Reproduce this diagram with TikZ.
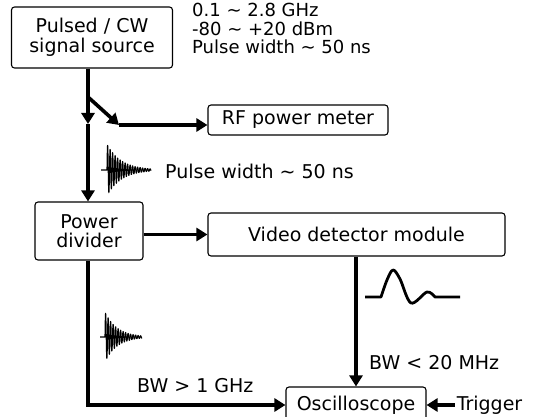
\documentclass[tikz,border=0pt]{standalone}
\usepackage{fontspec}
\setmainfont{DejaVu Sans}
\usetikzlibrary{arrows.meta}

\tikzset{
  block/.style={draw, line width=1.1pt, rounded corners=3pt, align=center, inner sep=0pt},
  tag/.style={inner sep=0pt, align=left},
  wire/.style={line width=3.6pt},
  feed/.style={wire, -{Triangle[length=11pt,width=13pt]}},
  burst/.style={line width=1.1pt, line join=round},
  pulse/.style={line width=2.8pt, line join=round},
}

\begin{document}
\begin{tikzpicture}[x=1pt, y=-1pt, font=\fontsize{19}{19.5}\selectfont]
			\useasboundingbox (0,0) rectangle (539,417);

			% Draw the blocks
			\node[block, minimum width=161pt, minimum height=61pt] (src) at (92,37.5) {Pulsed / CW\\signal source};
			\node[block, minimum width=180pt, minimum height=30pt] (rf) at (298,120) {RF power meter};
			\node[block, minimum width=108pt, minimum height=58pt] (div) at (89,231) {Power\\divider};
			\node[block, minimum width=297pt, minimum height=43pt] (vid) at (356.5,234.5) {Video detector module};
			\node[block, minimum width=140pt, minimum height=36pt] (osc) at (356,405) {Oscilloscope};
			\node[tag, anchor=west, inner sep=2pt] (trig) at ([xshift=28pt]osc.east) {Trigger};

			% Draw the labels
			\node[tag, anchor=north west, font=\fontsize{18}{16}\selectfont] (spec) at (192,3) {0.1 \textasciitilde{} 2.8 GHz\\[2.5pt]-80 \textasciitilde{} +20 dBm\\[2.5pt]Pulse width \textasciitilde{} 50 ns};
			\node[tag, anchor=base west] (width) at (165,179) {Pulse width \textasciitilde{} 50 ns};
			\node[tag, anchor=base west] (wide) at (137,392) {BW > 1 GHz};
			\node[tag, anchor=base west] (narrow) at (369,369) {BW < 20 MHz};

			% Draw the connectors
			\coordinate (tap) at (88,97);
			\coordinate (mid) at (88,124);
			\coordinate (bend) at (119,125);
			\draw[wire] (src.south -| tap) -- (tap);
			\draw[feed] (tap) -- (mid);
			\draw[feed] (mid) -- (div.north -| mid);
			\draw[feed] (tap) -- (bend);
			\draw[feed] (bend) -- (rf.west |- bend);
			\draw[feed] (div.east |- vid.west) -- (vid.west);
			\draw[feed] (vid.south -| osc.north) -- (osc.north);
			\draw[feed] (div.south -| tap) |- (osc.west);
			\draw[feed] (trig.west) -- (osc.east);

			% Draw the waveforms
			\draw[burst] (101,170) -- (107,170) -- plot[domain=0:44, samples=260] ({107+\x}, {170-26*exp(-\x/14)*sin(\x*144)});
			\draw[burst] (100,337) -- (105,337) -- plot[domain=0:37, samples=240] ({105+\x}, {337-25*exp(-\x/12)*sin(\x*144)});
			\draw[pulse] (365,297) -- (381,297) -- plot[smooth, tension=0.55] coordinates {(381,297) (387,280) (393,270) (400,279) (411,303) (427,292) (435,297)} -- (460,297);
		\end{tikzpicture}
\end{document}
